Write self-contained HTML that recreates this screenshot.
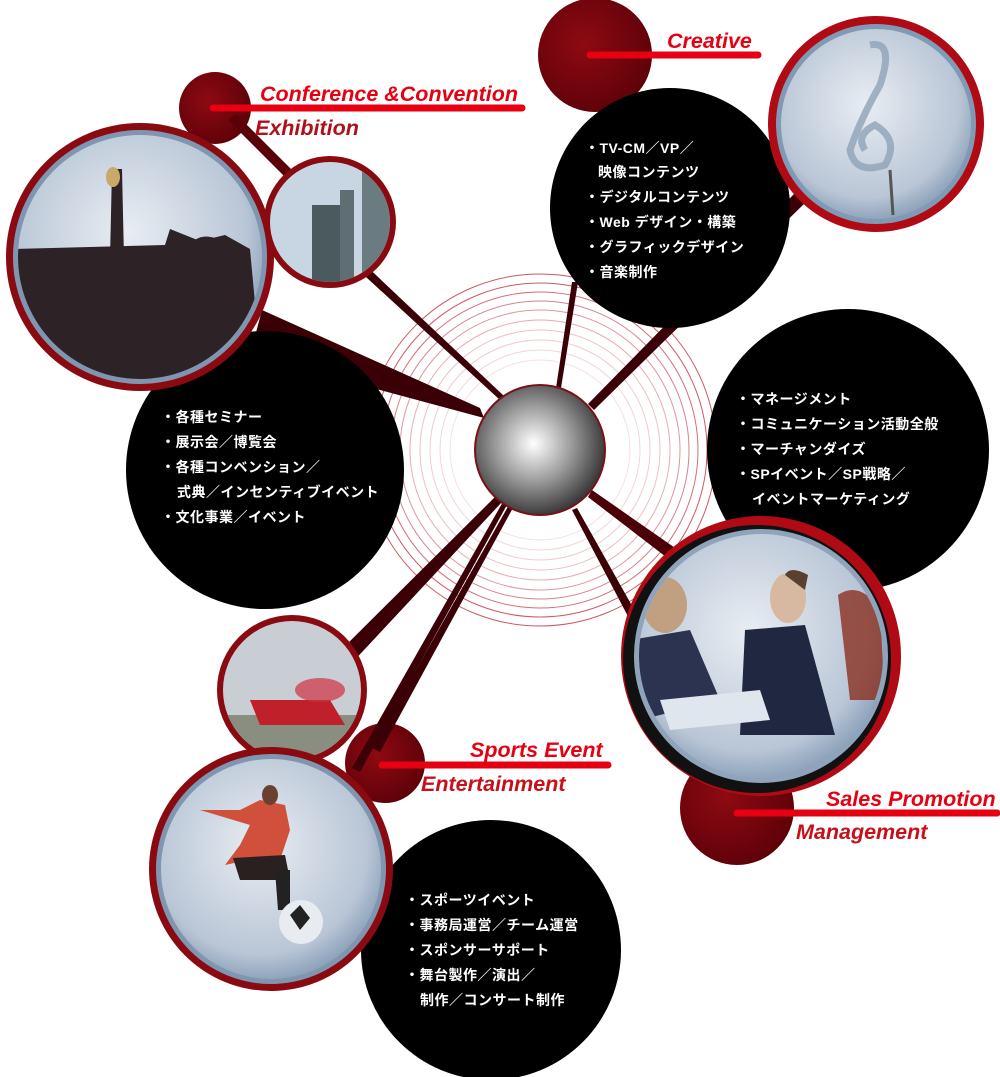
<!DOCTYPE html>
<html><head><meta charset="utf-8"><style>
html,body{margin:0;padding:0;background:#fff}
svg{display:block}
.t{font-family:"Liberation Sans","Noto Sans CJK JP",sans-serif;font-size:14px;font-weight:bold;fill:#fff;letter-spacing:0.5px}
.h{font-family:"Liberation Sans",sans-serif;font-size:21.5px;font-weight:bold;font-style:italic;fill:#e60012}
</style></head><body>
<svg width="1000" height="1077" viewBox="0 0 1000 1077" xmlns="http://www.w3.org/2000/svg">
<defs>
<radialGradient id="sph" cx="0.45" cy="0.45" r="0.6"><stop offset="0" stop-color="#fff"/><stop offset="0.5" stop-color="#9a9a9a"/><stop offset="1" stop-color="#2c2c2c"/></radialGradient>
<radialGradient id="red" cx="0.4" cy="0.4" r="0.7"><stop offset="0" stop-color="#8e0a12"/><stop offset="1" stop-color="#5a0008"/></radialGradient>
<radialGradient id="ph" cx="0.45" cy="0.4" r="0.65"><stop offset="0" stop-color="#e8edf3"/><stop offset="0.75" stop-color="#b9c6d6"/><stop offset="1" stop-color="#7f96b0"/></radialGradient>
</defs>

<g fill="none" stroke="#c0303a" stroke-width="1">
<circle cx="540" cy="450" r="90" opacity="0.15"/>
<circle cx="540" cy="450" r="100" opacity="0.2"/>
<circle cx="540" cy="450" r="110" opacity="0.25"/>
<circle cx="540" cy="450" r="120" opacity="0.3"/>
<circle cx="540" cy="450" r="130" opacity="0.4"/>
<circle cx="540" cy="450" r="140" opacity="0.5"/>
<circle cx="540" cy="450" r="149" opacity="0.6"/>
<circle cx="540" cy="450" r="158" opacity="0.7"/>
<circle cx="540" cy="450" r="167" opacity="0.8"/>
<circle cx="540" cy="450" r="176" opacity="0.8"/>
</g>

<circle cx="215" cy="108" r="36" fill="url(#red)"/>
<circle cx="595" cy="55" r="57" fill="url(#red)"/>
<circle cx="385" cy="763" r="40" fill="url(#red)"/>
<circle cx="737" cy="808" r="57" fill="url(#red)"/>

<g fill="#3a0006">
<polygon points="480,408 484,418 250,355 262,310"/>
<polygon points="228,120 236,114 300,178 292,184" fill="#5a0008"/>
<polygon points="500,400 504,396 360,260 354,266"/>
<polygon points="556,388 561,388 578,282 572,282"/>
<polygon points="588,404 594,410 808,200 796,192"/>
<polygon points="592,490 588,497 670,560 678,550" fill="#4a0006"/>
<polygon points="572,510 577,508 640,620 632,624"/>
<polygon points="496,496 502,502 350,665 336,655"/>
<polygon points="504,500 508,503 360,772 352,768"/>
<polygon points="510,503 514,506 380,752 372,748"/>
</g>

<circle cx="265" cy="470" r="139" fill="#000"/>
<circle cx="670" cy="208" r="120" fill="#000"/>
<circle cx="848" cy="450" r="141" fill="#000"/>
<circle cx="491" cy="950" r="130" fill="#000"/>

<g transform="translate(0,19)">
<circle cx="140" cy="238" r="134" fill="#8a0a12"/>
<circle cx="140" cy="238" r="127" fill="#7f96b0"/>
<circle cx="140" cy="238" r="122" fill="url(#ph)"/>
<clipPath id="c1"><circle cx="140" cy="238" r="122"/></clipPath>
<g clip-path="url(#c1)" fill="#2d2226">
<path d="M15,230 L165,226 L170,210 L200,222 L225,216 L250,230 L262,360 L15,360 Z"/>
<path d="M112,150 L122,150 L124,240 L110,240 Z"/>
<path d="M185,230 Q205,205 230,230 L240,260 L180,265 Z"/>
<path d="M40,240 Q55,220 80,238 L75,270 L40,270 Z"/>
</g>
<ellipse cx="113" cy="158" rx="7" ry="10" fill="#c9a86a"/>
</g>

<circle cx="330" cy="222" r="66" fill="#8a0a12"/>
<circle cx="330" cy="222" r="60" fill="#c8d6e4"/>
<clipPath id="c2"><circle cx="330" cy="222" r="60"/></clipPath>
<g clip-path="url(#c2)">
<rect x="312" y="205" width="28" height="80" fill="#4a5a5e"/>
<rect x="340" y="190" width="14" height="95" fill="#5e6e72"/>
<rect x="362" y="160" width="30" height="130" fill="#6a7c80"/>
</g>

<circle cx="876" cy="124" r="108" fill="#b00a14"/>
<circle cx="876" cy="124" r="100" fill="#7f9ab5"/>
<circle cx="876" cy="124" r="95" fill="url(#ph)"/>
<path d="M870,45 Q895,40 880,85 Q860,120 850,150 Q855,175 885,165 Q900,140 875,125 Q855,135 865,150" fill="none" stroke="#8fa3b8" stroke-width="7" opacity="0.8"/>
<path d="M890,170 L893,215" stroke="#555" stroke-width="3"/>

<circle cx="540" cy="450" r="66" fill="#7a1018"/>
<circle cx="540" cy="450" r="64" fill="url(#sph)"/>

<circle cx="761" cy="656" r="140" fill="#b00a14"/>
<circle cx="757" cy="659" r="134" fill="#111"/>
<circle cx="761" cy="656" r="127" fill="#8fa4bb"/>
<circle cx="761" cy="656" r="122" fill="url(#ph)"/>
<clipPath id="c3"><circle cx="761" cy="656" r="122"/></clipPath>
<g clip-path="url(#c3)">
<path d="M630,640 L690,630 L720,700 L640,720 Z" fill="#2b3350"/>
<ellipse cx="665" cy="605" rx="22" ry="28" fill="#c0a080"/>
<path d="M745,630 L805,625 L835,735 L740,735 Z" fill="#1f2840"/>
<ellipse cx="788" cy="598" rx="18" ry="25" fill="#d6b9a0"/>
<path d="M785,575 Q790,565 808,575 L805,590 Z" fill="#5a4030"/>
<path d="M838,595 Q860,580 880,610 L885,700 L850,700 Z" fill="#8a3020" opacity="0.8"/>
<path d="M660,700 L760,690 L770,720 L670,730 Z" fill="#dfe6ee"/>
</g>

<circle cx="292" cy="690" r="75" fill="#8a0a12"/>
<circle cx="292" cy="690" r="69" fill="#c9ced4"/>
<clipPath id="c4"><circle cx="292" cy="690" r="69"/></clipPath>
<g clip-path="url(#c4)">
<rect x="220" y="715" width="150" height="50" fill="#8a8e80"/>
<path d="M250,700 L330,700 L345,725 L260,725 Z" fill="#c0202a"/>
<ellipse cx="320" cy="690" rx="25" ry="12" fill="#d03040" opacity="0.7"/>
</g>

<circle cx="271" cy="869" r="122" fill="#8a0a12"/>
<circle cx="271" cy="869" r="115" fill="#7f96b0"/>
<circle cx="271" cy="869" r="110" fill="url(#ph)"/>
<path d="M200,810 L240,810 L260,800 L285,805 L290,830 L280,860 L260,860 L248,860 L225,865 L240,845 L250,825 Z" fill="#d0503c"/>
<path d="M233,858 L285,855 L290,880 L240,880 Z" fill="#2a2020"/>
<path d="M275,870 L290,870 L290,910 L278,910 Z" fill="#222"/>
<circle cx="301" cy="922" r="22" fill="#e8ecf0"/>
<path d="M290,915 L300,905 L310,918 L300,930 Z" fill="#222"/>
<ellipse cx="270" cy="795" rx="8" ry="10" fill="#6a4030"/>

<g stroke="#e60012" stroke-width="7" stroke-linecap="round">
<line x1="213" y1="108" x2="522" y2="108"/>
<line x1="590" y1="55" x2="758" y2="55"/>
<line x1="382" y1="765" x2="608" y2="765"/>
<line x1="737" y1="813" x2="997" y2="813"/>
</g>
<text class="h" x="260" y="101">Conference &amp;Convention</text>
<text class="h" x="255" y="135" style="fill:#b0101a">Exhibition</text>
<text class="h" x="667" y="48">Creative</text>
<text class="h" x="470" y="757">Sports Event</text>
<text class="h" x="421" y="791" style="fill:#c8101a">Entertainment</text>
<text class="h" x="826" y="806">Sales Promotion</text>
<text class="h" x="796" y="839" style="fill:#c8101a">Management</text>

<text class="t" x="161" y="422">・各種セミナー</text>
<text class="t" x="161" y="447">・展示会／博覧会</text>
<text class="t" x="161" y="472">・各種コンベンション／</text>
<text class="t" x="177" y="497">式典／インセンティブイベント</text>
<text class="t" x="161" y="522">・文化事業／イベント</text>

<text class="t" x="585" y="153">・TV-CM／VP／</text>
<text class="t" x="598" y="177">映像コンテンツ</text>
<text class="t" x="585" y="202">・デジタルコンテンツ</text>
<text class="t" x="585" y="227">・Web デザイン・構築</text>
<text class="t" x="585" y="252">・グラフィックデザイン</text>
<text class="t" x="585" y="277">・音楽制作</text>

<text class="t" x="736" y="404">・マネージメント</text>
<text class="t" x="736" y="429">・コミュニケーション活動全般</text>
<text class="t" x="736" y="454">・マーチャンダイズ</text>
<text class="t" x="736" y="479">・SPイベント／SP戦略／</text>
<text class="t" x="752" y="504">イベントマーケティング</text>

<text class="t" x="405" y="905">・スポーツイベント</text>
<text class="t" x="405" y="930">・事務局運営／チーム運営</text>
<text class="t" x="405" y="955">・スポンサーサポート</text>
<text class="t" x="405" y="980">・舞台製作／演出／</text>
<text class="t" x="420" y="1005">制作／コンサート制作</text>
</svg>
</body></html>
